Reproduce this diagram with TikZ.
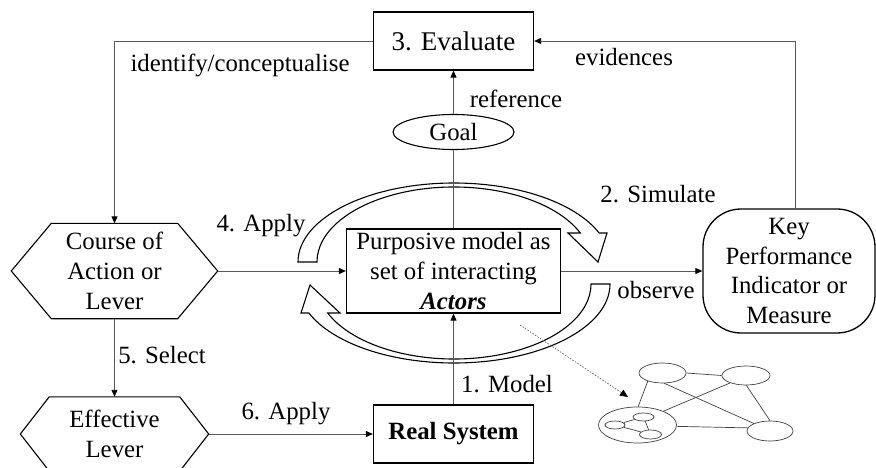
\documentclass[tikz,border=0pt]{standalone}
\usepackage{fontspec}
\setmainfont{Liberation Serif}
\usetikzlibrary{arrows.meta,shapes.geometric,calc}
\begin{document}
\begin{tikzpicture}[x=1pt,y=-1pt,
  every node/.style={font=\fontsize{24.8}{29.7}\selectfont},
  box/.style={draw=black, line width=1.3pt, inner sep=0pt, align=center},
  hexbox/.style={inner sep=0pt, align=center},
  hexline/.style={draw=black, line width=1.1pt, line join=miter},
  conn/.style={draw=black!65, line width=0.9pt},
  arr/.style={conn, -{Triangle[length=7pt,width=6pt,color=black]}},
  lbl/.style={inner sep=0pt},
  bigarrow/.style={draw=black, line width=1.1pt, line join=miter},
  netnode/.style={draw=black!75, line width=0.7pt, ellipse, inner sep=0pt},
  netline/.style={draw=black!75, line width=0.7pt},
]
\useasboundingbox (0,0) rectangle (876,468);

% main boxes
\node[box, minimum width=160, minimum height=58, font=\fontsize{27}{32}\selectfont] (ev) at (453.5,41) {3. Evaluate};
\node[ellipse, draw=black, line width=1.1pt, inner sep=0pt, minimum width=121, minimum height=35] (goal) at (453.5,132) {Goal};
\node[box, minimum width=214, minimum height=84] (pm) at (453.5,271)
  {Purposive model as\\set of interacting\\\textbf{\textit{Actors}}};
\node[box, minimum width=160, minimum height=58] (real) at (453.5,434) {\textbf{Real System}};
\node[box, rounded corners=38pt, minimum width=172, minimum height=124] (kpi) at (789,271)
  {Key\\Performance\\Indicator or\\Measure};

% hexagonal nodes
\node[hexbox, minimum width=206, minimum height=95] (coa) at (114.5,271) {Course of\\Action or\\Lever};
\draw[hexline] (coa.west) -- ($(coa.north west)+(40,0)$) -- ($(coa.north east)+(-40,0)$) -- (coa.east)
  -- ($(coa.south east)+(-40,0)$) -- ($(coa.south west)+(40,0)$) -- cycle;
\node[hexbox, minimum width=188, minimum height=74] (eff) at (114.5,434) {Effective\\Lever};
\draw[hexline] (eff.west) -- ($(eff.north west)+(29,0)$) -- ($(eff.north east)+(-29,0)$) -- (eff.east)
  -- ($(eff.south east)+(-29,0)$) -- ($(eff.south west)+(29,0)$) -- cycle;

% circular hollow arrows around the model
\draw[bigarrow] (298,262) arc[start angle=180, end angle=338.46, x radius=156, y radius=79]
  -- (607,233) -- (598,262) -- (568,233) -- (580.3,233)
  arc[start angle=337.25, end angle=180, x radius=137, y radius=75] -- cycle;
\draw[bigarrow] (610,284) arc[start angle=0, end angle=158.46, x radius=156, y radius=79]
  -- (301,313) -- (310,285) -- (340,313) -- (327.7,313)
  arc[start angle=157.25, end angle=0, x radius=137, y radius=75] -- cycle;

% connectors
\draw[arr] (goal) -- (ev);
\draw[conn] (goal) -- (pm);
\draw[arr] (real) -- (pm);
\draw[arr] (coa) -- (pm);
\draw[arr] (pm) -- (kpi);
\draw[arr] (ev.west) -| (coa.north);
\draw[arr] ([xshift=6pt]kpi.north) |- (ev.east);
\draw[arr] (coa) -- (eff);
\draw[arr] (eff) -- (real);

% labels
\node[lbl] (lident) at (240,65.5) {identify/conceptualise};
\node[lbl] (lref) at (516,98.5) {reference};
\node[lbl] (levid) at (624,57) {evidences};
\node[lbl] (lapply4) at (261,226) {4. Apply};
\node[lbl] (lsim) at (658,194.5) {2. Simulate};
\node[lbl] (lobs) at (656,290) {observe};
\node[lbl] (lsel) at (162,355) {5. Select};
\node[lbl] (lapply6) at (286,414) {6. Apply};
\node[lbl] (lmodel) at (507,384) {1. Model};

% network of actors
\node[netnode, minimum width=47, minimum height=20] (na) at (662.5,373) {};
\node[netnode, minimum width=48, minimum height=19] (nb) at (746,375.5) {};
\node[netnode, minimum width=78, minimum height=36] (nc) at (637.5,425) {};
\node[netnode, minimum width=46, minimum height=20] (nd) at (770,431) {};
\node[netnode, minimum width=20, minimum height=8] (s1) at (615,425) {};
\node[netnode, minimum width=21, minimum height=8] (s2) at (643.5,417) {};
\node[netnode, minimum width=22, minimum height=9] (s3) at (650.5,434.5) {};
\draw[netline] (na.east) -- (nb.west);
\draw[netline] (na.209) -- (nc.88);
\draw[netline] (na.280) -- (nd.155);
\draw[netline] (nb.205) -- (nc.28);
\draw[netline] (nb.272) -- (nd.90);
\draw[netline] (nc.358) -- (nd.172);
\draw[netline] (s1) -- (s2);
\draw[netline] (s2) -- (s3);
\draw[netline] (s1) -- (s3);

% pointer from the model to the network
\coordinate (dstart) at (520,325);
\coordinate (dend) at (628,397);
\draw[draw=black!60, line width=0.7pt, dash pattern=on 1.5pt off 1.5pt,
  -{Triangle[length=8pt,width=7pt,color=black]}] (dstart) -- (dend);
\end{tikzpicture}
\end{document}
